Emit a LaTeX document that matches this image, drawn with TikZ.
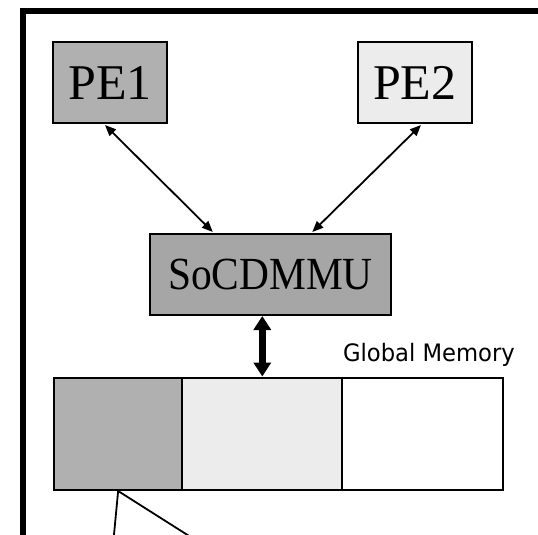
\documentclass[tikz,border=0pt]{standalone}
\usepackage{fontspec}
\setmainfont{Liberation Serif}
\newfontfamily\labelfont{DejaVu Sans}
\usetikzlibrary{arrows.meta,calc}

\definecolor{peone}{HTML}{B0B0B0}
\definecolor{petwo}{HTML}{ECECEC}
\definecolor{mmu}{HTML}{A6A6A6}

\tikzset{
  block/.style={draw=black, line width=2pt, rectangle, inner sep=0pt},
  pebox/.style={block, minimum width=114pt, minimum height=81pt,
                font=\fontsize{50}{50}\selectfont},
  memcell/.style={block, minimum height=112.5pt},
  link/.style={line width=1.8pt, {Triangle[length=11pt,width=9pt]}-{Triangle[length=11pt,width=9pt]}},
  bus/.style={line width=7pt, {Triangle[length=14pt,width=17pt]}-{Triangle[length=14pt,width=17pt]}},
  frame/.style={line width=6pt},
  wire/.style={line width=1.8pt}
}

\begin{document}
\begin{tikzpicture}[x=1pt,y=-1pt]
  \useasboundingbox (0,0) rectangle (538,535);
  \clip (0,0) rectangle (538,535);

  % enclosing frame, open to the right and bottom
  \coordinate (fbl) at (23,545);
  \coordinate (ftl) at (23,11);
  \coordinate (ftr) at (545,11);
  \draw[frame] (fbl) -- (ftl) -- (ftr);

  % processing elements
  \node[pebox, fill=peone] (pe1) at (110,82.5) {PE1};
  \node[pebox, fill=petwo] (pe2) at (414.75,82.5) {PE2};

  % memory management unit
  \node[block, fill=mmu, minimum width=241pt, minimum height=81pt] (soc) at (270.5,274.5)
    {\fontsize{46}{46}\selectfont\scalebox{0.9}[1]{SoCDMMU}};

  % global memory partitions
  \node[memcell, fill=peone, minimum width=128.3pt] (mem1) at (118.15,433.75) {};
  \node[memcell, fill=petwo, minimum width=160pt] (mem2) at (262.3,433.75) {};
  \node[memcell, fill=white, minimum width=160.7pt] (mem3) at (422.65,433.75) {};

  \node[anchor=base east, inner sep=0pt, font=\labelfont\fontsize{24}{24}\selectfont,
        xscale=0.945] (gm) at (515,361) {Global Memory};

  % connections
  \draw[link] ($(pe1.south)+(-5,1)$) -- ($(soc.north)+(-57.7,-1)$);
  \draw[link] ($(pe2.south)+(6.25,1)$) -- ($(soc.north)+(41.8,-1)$);
  \draw[bus] (mem2.north |- soc.south) -- (mem2.north);

  % leader lines from the first partition
  \coordinate (lead1) at (113,545);
  \coordinate (lead2) at (203.3,545);
  \draw[wire] (lead1) -- (mem1.south) -- (lead2);
\end{tikzpicture}
\end{document}
